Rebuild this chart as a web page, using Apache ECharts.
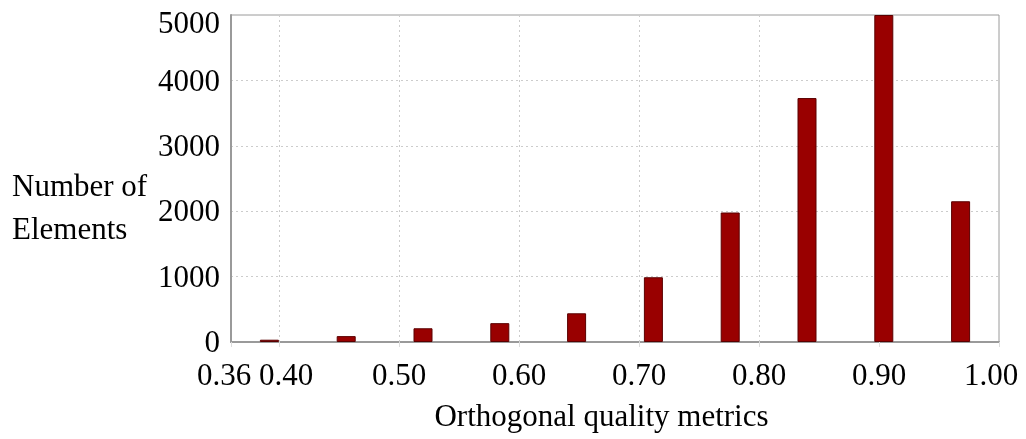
<!DOCTYPE html>
<html>
<head>
<meta charset="utf-8">
<script src="https://cdn.jsdelivr.net/npm/echarts@6/dist/echarts.min.js"></script>
<style>
  html, body { margin: 0; padding: 0; background: #fff; }
  #chart { width: 1026px; height: 439px; }
</style>
</head>
<body>
<div id="chart"></div>
<script>
// Histogram of orthogonal quality: 10 bins over [0.36, 1.00], bin width 0.064
const binCenters = [0.392, 0.456, 0.520, 0.584, 0.648, 0.712, 0.776, 0.840, 0.904, 0.968];
const elementCounts = [35, 90, 210, 288, 439, 990, 1980, 3730, 5000, 2152];
const xTickValues = [0.36, 0.40, 0.50, 0.60, 0.70, 0.80, 0.90, 1.00];
const xGridValues = [0.40, 0.50, 0.60, 0.70, 0.80, 0.90];
const yAxisTitle = 'Number of\nElements';
const xAxisTitle = 'Orthogonal quality metrics';

const FONT = '"Liberation Serif", "Times New Roman", serif';
const FS = 31;

const chart = echarts.init(document.getElementById('chart'), null, { renderer: 'canvas' });

const barData = binCenters.map((x, i) => [x, elementCounts[i]]);

chart.setOption({
  backgroundColor: '#ffffff',
  animation: false,
  title: {
    text: yAxisTitle,
    left: 12, top: 166, padding: 0,
    textStyle: { fontFamily: FONT, fontSize: FS, fontWeight: 'normal', color: '#000', lineHeight: 43 }
  },
  grid: {
    left: 231, right: 27, top: 15, bottom: 97,
    outerBoundsMode: 'none',
    containLabel: false,
    show: true, borderColor: '#9a9a9a', borderWidth: 1, backgroundColor: '#ffffff'
  },
  xAxis: {
    type: 'value',
    min: 0.36, max: 1.0, interval: 0.02,
    name: xAxisTitle,
    nameLocation: 'middle',
    nameGap: 60,
    nameTextStyle: { fontFamily: FONT, fontSize: FS, color: '#000', padding: [0, 27, 0, 0] },
    axisLine: { show: true, onZero: false, lineStyle: { color: '#9a9a9a', width: 2 } },
    axisTick: { show: true, customValues: xTickValues, length: 5, lineStyle: { color: '#dddddd' } },
    splitLine: { show: false },
    axisLabel: {
      customValues: xTickValues,
      margin: 19,
      fontFamily: FONT, fontSize: FS, color: '#000',
      formatter: function (v) {
        const s = v.toFixed(2);
        if (s === '0.36') return '{l|' + s + '}';
        if (s === '0.40') return '{r|' + s + '}';
        if (s === '1.00') return '{e|' + s + '}';
        return s;
      },
      rich: {
        l: { fontFamily: FONT, fontSize: FS, color: '#000', padding: [0, 14, 0, 0] },
        r: { fontFamily: FONT, fontSize: FS, color: '#000', padding: [0, 0, 0, 14] },
        e: { fontFamily: FONT, fontSize: FS, color: '#000', padding: [0, 16, 0, 0] }
      }
    }
  },
  yAxis: {
    type: 'value',
    min: 0, max: 5000, interval: 1000,
    axisLine: { show: true, lineStyle: { color: '#9a9a9a', width: 2 } },
    axisTick: { show: false },
    splitLine: { show: true, lineStyle: { color: '#cccccc', type: [2, 3], width: 1 } },
    axisLabel: {
      margin: 11,
      fontFamily: FONT, fontSize: FS, color: '#000',
      formatter: function (v) {
        return v === 5000 ? '{t|5000}' : '{n|' + v + '}';
      },
      rich: {
        t: { fontFamily: FONT, fontSize: FS, color: '#000', padding: [20, 0, 0, 0] },
        n: { fontFamily: FONT, fontSize: FS, color: '#000', padding: [4, 0, 0, 0] }
      }
    }
  },
  series: [
    {
      // carries the vertical dotted grid lines beneath the bars
      type: 'line',
      data: [],
      z: 1,
      silent: true,
      markLine: {
        z: 1,
        silent: true,
        symbol: ['none', 'none'],
        label: { show: false },
        lineStyle: { color: '#cccccc', type: [2, 3], width: 1 },
        data: xGridValues.map(v => ({ xAxis: v }))
      }
    },
    {
      type: 'bar',
      z: 3,
      data: barData,
      barWidth: 19,
      itemStyle: { color: '#990000', borderColor: '#5a0000', borderWidth: 1 }
    }
  ]
});
</script>
</body>
</html>
